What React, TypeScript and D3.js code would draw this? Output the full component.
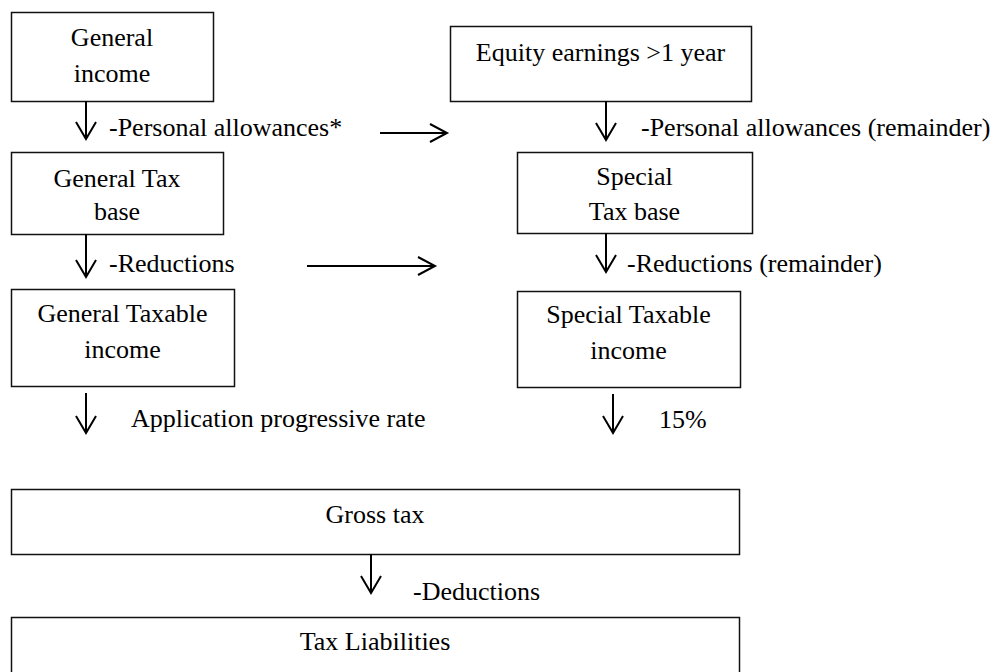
import React, { useEffect, useRef } from 'react';
import * as d3 from 'd3';

// Box texts (one entry per line)
const boxIds = ['genIncome', 'genBase', 'genTaxable', 'equity', 'spBase', 'spTaxable', 'gross', 'liab'];
const boxLines: string[][] = [
  ['General', 'income'],
  ['General Tax', 'base'],
  ['General Taxable', 'income'],
  ['Equity earnings >1 year'],
  ['Special', 'Tax base'],
  ['Special Taxable', 'income'],
  ['Gross tax'],
  ['Tax Liabilities'],
];

// Step arrows between boxes, with their labels
const stepFrom = ['genIncome', 'genBase', 'genTaxable', 'equity', 'spBase', 'spTaxable', 'gross'];
const stepLabels = [
  '-Personal allowances*',
  '-Reductions',
  'Application progressive rate',
  '-Personal allowances (remainder)',
  '-Reductions (remainder)',
  '15%',
  '-Deductions',
];

// Transfers from the general column to the special column
const transferRows = ['allowances', 'reductions'];

// ---- layout (pixels) ----
const boxGeom: Record<string, { x: number; y: number; w: number; h: number; base: number[] }> = {
  genIncome: { x: 11, y: 12, w: 202, h: 89, base: [46, 82] },
  genBase: { x: 11, y: 152, w: 212, h: 82, base: [187, 220] },
  genTaxable: { x: 11, y: 289, w: 223, h: 97, base: [322, 358] },
  equity: { x: 450, y: 26, w: 301, h: 75, base: [61] },
  spBase: { x: 517, y: 152, w: 235, h: 81, base: [185, 220] },
  spTaxable: { x: 517, y: 291, w: 223, h: 96, base: [323, 359] },
  gross: { x: 11, y: 489, w: 728, h: 65, base: [523] },
  liab: { x: 11, y: 617, w: 728, h: 65, base: [650] },
};
const stepGeom = [
  { x: 86, y1: 101, y2: 139, lx: 109, ly: 136 },
  { x: 86, y1: 234, y2: 277, lx: 109, ly: 272 },
  { x: 86, y1: 393, y2: 433, lx: 131, ly: 427 },
  { x: 606, y1: 101, y2: 140, lx: 641, ly: 136 },
  { x: 606, y1: 233, y2: 272, lx: 627, ly: 272 },
  { x: 613, y1: 394, y2: 433, lx: 659, ly: 428 },
  { x: 371, y1: 554, y2: 593, lx: 413, ly: 600 },
];
const transferGeom = [
  { x1: 380, x2: 447, y: 133 },
  { x1: 307, x2: 435, y: 266 },
];

const FONT = '"Liberation Serif", "Times New Roman", serif';

export default function App() {
  const svgRef = useRef<SVGSVGElement>(null);

  useEffect(() => {
    if (!svgRef.current) return;
    const svg = d3.select(svgRef.current);
    svg.selectAll('*').remove();

    const line = d3.line<[number, number]>();

    // boxes
    const g = svg.append('g');
    boxIds.forEach((id, i) => {
      const b = boxGeom[id];
      g.append('rect')
        .attr('x', b.x + 0.5)
        .attr('y', b.y + 0.5)
        .attr('width', b.w)
        .attr('height', b.h)
        .attr('fill', '#fff')
        .attr('stroke', '#111')
        .attr('stroke-width', 1.5);
      boxLines[i].forEach((t, j) => {
        g.append('text')
          .attr('x', b.x + b.w / 2)
          .attr('y', b.base[j])
          .attr('text-anchor', 'middle')
          .attr('font-family', FONT)
          .attr('font-size', 26)
          .attr('fill', '#000')
          .text(t);
      });
    });

    // vertical step arrows
    stepFrom.forEach((_, i) => {
      const s = stepGeom[i];
      g.append('path')
        .attr('d', line([[s.x, s.y1], [s.x, s.y2]]))
        .attr('stroke', '#000')
        .attr('stroke-width', 2)
        .attr('fill', 'none');
      g.append('path')
        .attr('d', line([[s.x - 10, s.y2 - 17], [s.x, s.y2], [s.x + 10, s.y2 - 17]]))
        .attr('stroke', '#000')
        .attr('stroke-width', 2)
        .attr('fill', 'none');
      g.append('text')
        .attr('x', s.lx)
        .attr('y', s.ly)
        .attr('font-family', FONT)
        .attr('font-size', 26)
        .attr('fill', '#000')
        .text(stepLabels[i]);
    });

    // horizontal transfer arrows
    transferRows.forEach((_, i) => {
      const t = transferGeom[i];
      g.append('path')
        .attr('d', line([[t.x1, t.y], [t.x2, t.y]]))
        .attr('stroke', '#000')
        .attr('stroke-width', 2)
        .attr('fill', 'none');
      g.append('path')
        .attr('d', line([[t.x2 - 17, t.y - 9], [t.x2, t.y], [t.x2 - 17, t.y + 9]]))
        .attr('stroke', '#000')
        .attr('stroke-width', 2)
        .attr('fill', 'none');
    });
  }, []);

  return (
    <svg
      ref={svgRef}
      width={1005}
      height={672}
      style={{ position: 'absolute', left: 0, top: 0, background: '#fff' }}
    />
  );
}
